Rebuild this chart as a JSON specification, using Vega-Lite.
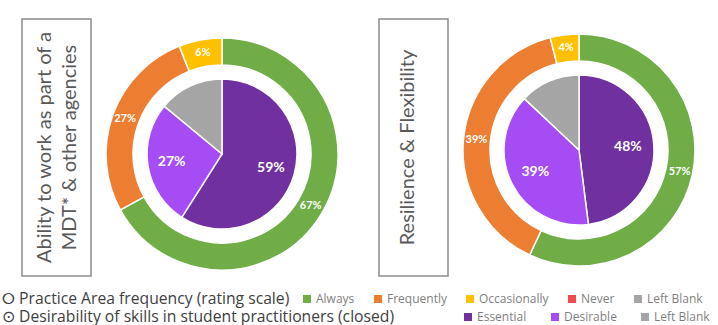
{
  "$schema": "https://vega.github.io/schema/vega-lite/v6.json",
  "padding": {"left": 2, "top": 13, "right": 21, "bottom": 0},
  "background": "white",
  "config": {"view": {"stroke": null}, "font": "Lato"},
  "datasets": {
    "box1": [{"label": "Ability to work as part of a\nMDT* & other agencies"}],
    "box2": [{"label": "Resilience & Flexibility"}],
    "outer1": [
      {"cat": "Always", "pct": 67, "ord": 1, "lbl": "67%"},
      {"cat": "Frequently", "pct": 27, "ord": 2, "lbl": "27%"},
      {"cat": "Occasionally", "pct": 6, "ord": 3, "lbl": "6%"}
    ],
    "inner1": [
      {"skill": "Essential", "pct": 59, "ord": 1, "lbl": "59%"},
      {"skill": "Desirable", "pct": 27, "ord": 2, "lbl": "27%"},
      {"skill": "Left Blank", "pct": 14, "ord": 3, "lbl": ""}
    ],
    "outer2": [
      {"cat": "Always", "pct": 57, "ord": 1, "lbl": "57%"},
      {"cat": "Frequently", "pct": 39, "ord": 2, "lbl": "39%"},
      {"cat": "Occasionally", "pct": 4, "ord": 3, "lbl": "4%"}
    ],
    "inner2": [
      {"skill": "Essential", "pct": 48, "ord": 1, "lbl": "48%"},
      {"skill": "Desirable", "pct": 39, "ord": 2, "lbl": "39%"},
      {"skill": "Left Blank", "pct": 13, "ord": 3, "lbl": ""}
    ]
  },
  "spacing": 36,
  "hconcat": [
    {
      "spacing": 10,
      "hconcat": [
        {"width": 9, "height": 1, "data": {"values": [{}]}, "mark": {"type": "text"}, "encoding": {"text": {"value": ""}}},
        {
          "width": 69, "height": 257,
          "view": {"stroke": "#8c8c8c", "strokeWidth": 1.5},
          "data": {"name": "box1"},
          "mark": {"type": "text", "angle": 270, "align": "center", "baseline": "middle", "fontSize": 20, "lineHeight": 25, "lineBreak": "\n", "color": "#595959", "dy": -12},
          "encoding": {"text": {"field": "label"}}
        },
        {
          "width": 240, "height": 270,
          "layer": [
            {
              "data": {"name": "outer1"},
              "mark": {"type": "arc", "outerRadius": 116, "innerRadius": 89, "stroke": "white", "strokeWidth": 1.5},
              "encoding": {
                "theta": {"field": "pct", "type": "quantitative", "stack": true},
                "order": {"field": "ord"},
                "color": {"field": "cat", "type": "nominal",
                  "scale": {"domain": ["Always", "Frequently", "Occasionally", "Never", "Left Blank"], "range": ["#70AD47", "#ED7D31", "#FFC000", "#F24B4B", "#A5A5A5"]},
                  "legend": {"title": "⭘ Practice Area frequency (rating scale)", "orient": "none", "legendX": 0, "legendY": 274, "direction": "horizontal", "titleOrient": "left", "titleFont": "Open Sans", "titleFontSize": 15.7, "titleFontWeight": "normal", "titleColor": "#404040", "titlePadding": 11, "titleLimit": 450, "labelFont": "Open Sans", "labelFontSize": 12, "labelColor": "#7f7f7f", "symbolType": "square", "symbolSize": 64, "symbolStrokeWidth": 0, "columnPadding": 17, "labelOffset": 3}}
              }
            },
            {
              "data": {"name": "outer1"},
              "mark": {"type": "text", "radius": 103, "fill": "white", "fontSize": 11, "fontWeight": "bold"},
              "encoding": {
                "theta": {"field": "pct", "type": "quantitative", "stack": true},
                "order": {"field": "ord"},
                "detail": {"field": "cat"},
                "text": {"field": "lbl"}
              }
            },
            {
              "data": {"name": "inner1"},
              "mark": {"type": "arc", "outerRadius": 75, "stroke": "white", "strokeWidth": 1.5},
              "encoding": {
                "theta": {"field": "pct", "type": "quantitative", "stack": true},
                "order": {"field": "ord"},
                "fill": {"field": "skill", "type": "nominal",
                  "scale": {"domain": ["Essential", "Desirable", "Left Blank"], "range": ["#7030A0", "#A64CF5", "#A5A5A5"]},
                  "legend": {"title": "⊙ Desirability of skills in student practitioners (closed)", "orient": "none", "legendX": 0, "legendY": 292, "direction": "horizontal", "titleOrient": "left", "titleFont": "Open Sans", "titleFontSize": 15.7, "titleFontWeight": "normal", "titleColor": "#404040", "titlePadding": 67, "titleLimit": 550, "labelFont": "Open Sans", "labelFontSize": 12, "labelColor": "#7f7f7f", "symbolType": "square", "symbolSize": 64, "symbolStrokeWidth": 0, "columnPadding": 22, "labelOffset": 3}}
              }
            },
            {
              "data": {"name": "inner1"},
              "mark": {"type": "text", "radius": 51, "fill": "white", "fontSize": 14, "fontWeight": "bold"},
              "encoding": {
                "theta": {"field": "pct", "type": "quantitative", "stack": true},
                "order": {"field": "ord"},
                "detail": {"field": "skill"},
                "text": {"field": "lbl"}
              }
            }
          ]
        }
      ]
    },
    {
      "spacing": 10,
      "hconcat": [
        {
          "width": 69, "height": 257,
          "view": {"stroke": "#8c8c8c", "strokeWidth": 1.5},
          "data": {"name": "box2"},
          "mark": {"type": "text", "angle": 270, "align": "center", "baseline": "middle", "fontSize": 20, "lineHeight": 25, "lineBreak": "\n", "color": "#595959", "dy": -6},
          "encoding": {"text": {"field": "label"}}
        },
        {
          "width": 240, "height": 262,
          "layer": [
            {
              "data": {"name": "outer2"},
              "mark": {"type": "arc", "outerRadius": 116, "innerRadius": 89, "stroke": "white", "strokeWidth": 1.5},
              "encoding": {
                "theta": {"field": "pct", "type": "quantitative", "stack": true},
                "order": {"field": "ord"},
                "color": {"field": "cat", "type": "nominal",
                  "scale": {"domain": ["Always", "Frequently", "Occasionally", "Never", "Left Blank"], "range": ["#70AD47", "#ED7D31", "#FFC000", "#F24B4B", "#A5A5A5"]},
                  "legend": {"title": "⭘ Practice Area frequency (rating scale)", "orient": "none", "legendX": 0, "legendY": 274, "direction": "horizontal", "titleOrient": "left", "titleFont": "Open Sans", "titleFontSize": 15.7, "titleFontWeight": "normal", "titleColor": "#404040", "titlePadding": 11, "titleLimit": 450, "labelFont": "Open Sans", "labelFontSize": 12, "labelColor": "#7f7f7f", "symbolType": "square", "symbolSize": 64, "symbolStrokeWidth": 0, "columnPadding": 17, "labelOffset": 3}}
              }
            },
            {
              "data": {"name": "outer2"},
              "mark": {"type": "text", "radius": 103, "fill": "white", "fontSize": 11, "fontWeight": "bold"},
              "encoding": {
                "theta": {"field": "pct", "type": "quantitative", "stack": true},
                "order": {"field": "ord"},
                "detail": {"field": "cat"},
                "text": {"field": "lbl"}
              }
            },
            {
              "data": {"name": "inner2"},
              "mark": {"type": "arc", "outerRadius": 75, "stroke": "white", "strokeWidth": 1.5},
              "encoding": {
                "theta": {"field": "pct", "type": "quantitative", "stack": true},
                "order": {"field": "ord"},
                "fill": {"field": "skill", "type": "nominal",
                  "scale": {"domain": ["Essential", "Desirable", "Left Blank"], "range": ["#7030A0", "#A64CF5", "#A5A5A5"]},
                  "legend": {"title": "⊙ Desirability of skills in student practitioners (closed)", "orient": "none", "legendX": 0, "legendY": 292, "direction": "horizontal", "titleOrient": "left", "titleFont": "Open Sans", "titleFontSize": 15.7, "titleFontWeight": "normal", "titleColor": "#404040", "titlePadding": 67, "titleLimit": 550, "labelFont": "Open Sans", "labelFontSize": 12, "labelColor": "#7f7f7f", "symbolType": "square", "symbolSize": 64, "symbolStrokeWidth": 0, "columnPadding": 22, "labelOffset": 3}}
              }
            },
            {
              "data": {"name": "inner2"},
              "mark": {"type": "text", "radius": 49, "fill": "white", "fontSize": 14, "fontWeight": "bold"},
              "encoding": {
                "theta": {"field": "pct", "type": "quantitative", "stack": true},
                "order": {"field": "ord"},
                "detail": {"field": "skill"},
                "text": {"field": "lbl"}
              }
            }
          ]
        }
      ]
    }
  ]
}
